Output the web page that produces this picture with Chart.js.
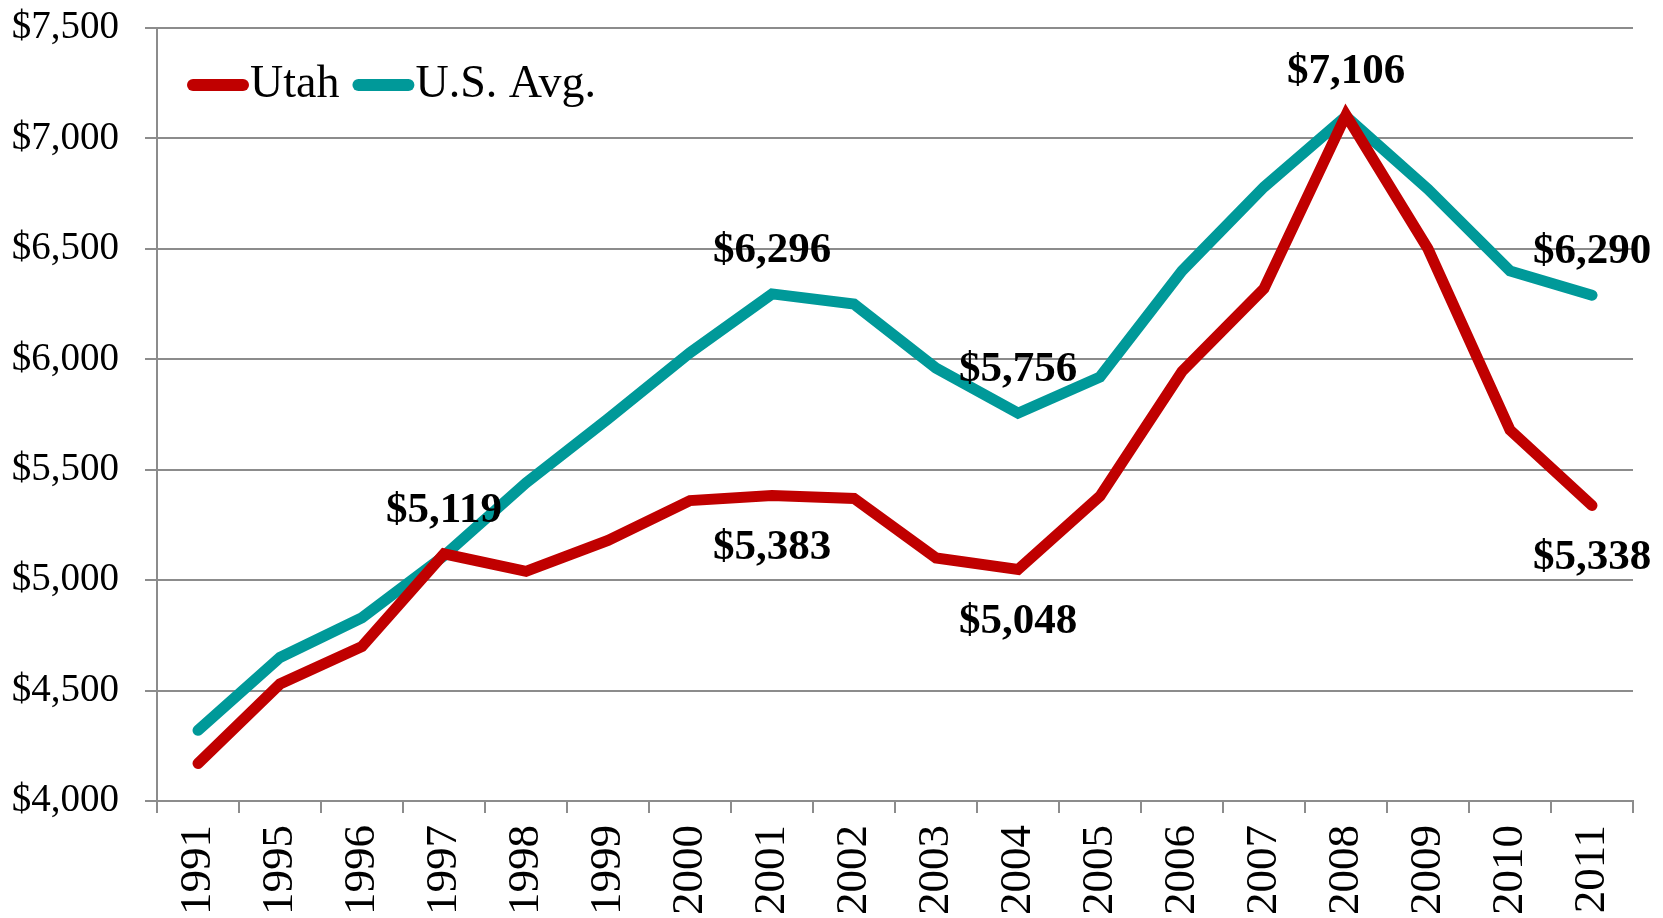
<!DOCTYPE html>
<html>
<head>
<meta charset="utf-8">
<title>Utah vs U.S. Avg.</title>
<script src="https://cdn.jsdelivr.net/npm/chart.js@4.4.1/dist/chart.umd.min.js"></script>
<style>
  html, body { margin: 0; padding: 0; background: #fff; }
</style>
</head>
<body>
<canvas id="spendChart" width="1663" height="918"></canvas>
<script>
  const years = ['1991', '1995', '1996', '1997', '1998', '1999', '2000', '2001', '2002',
                 '2003', '2004', '2005', '2006', '2007', '2008', '2009', '2010', '2011'];
  const utah  = [4170, 4530, 4700, 5119, 5040, 5180, 5360, 5383, 5370,
                 5100, 5048, 5380, 5945, 6320, 7106, 6500, 5680, 5338];
  const usAvg = [4320, 4650, 4830, 5110, 5440, 5730, 6030, 6296, 6250,
                 5960, 5756, 5920, 6400, 6780, 7100, 6770, 6400, 6290];
  const yMin = 4000, yMax = 7500, yStep = 500;

  // points that carry a value label: index -> side
  const utahLabelAt  = { 3: 'above', 7: 'below', 10: 'below', 14: 'above', 17: 'below' };
  const usAvgLabelAt = { 7: 'above', 10: 'above', 17: 'above' };

  const serif = '"Liberation Serif", "DejaVu Serif", serif';
  const money = v => '$' + Number(v).toLocaleString('en-US');

  // value labels drawn at the library's point positions
  const valueLabels = {
    id: 'valueLabels',
    afterDatasetsDraw(chart) {
      const ctx = chart.ctx;
      ctx.save();
      ctx.font = 'bold 43px ' + serif;
      ctx.fillStyle = '#000';
      ctx.textAlign = 'center';
      ctx.textBaseline = 'middle';
      chart.data.datasets.forEach((ds, di) => {
        const meta = chart.getDatasetMeta(di);
        Object.entries(ds.labelAt || {}).forEach(([i, side]) => {
          const pt = meta.data[i];
          const dy = side === 'above' ? -43 : 52;
          ctx.fillText(money(ds.data[i]), pt.x, pt.y + dy);
        });
      });
      ctx.restore();
    }
  };

  // legend sitting inside the plot, top left
  const insideLegend = {
    id: 'insideLegend',
    afterDraw(chart) {
      const ctx = chart.ctx;
      let x = chart.chartArea.left + 36;
      const y = 85;
      ctx.save();
      ctx.font = '46px ' + serif;
      ctx.textBaseline = 'middle';
      ctx.textAlign = 'left';
      chart.data.datasets.forEach(ds => {
        ctx.strokeStyle = ds.borderColor;
        ctx.lineWidth = 12;
        ctx.lineCap = 'round';
        ctx.beginPath();
        ctx.moveTo(x, y);
        ctx.lineTo(x + 50, y);
        ctx.stroke();
        ctx.fillStyle = '#000';
        ctx.fillText(ds.label, x + 57, y);
        x += 57 + ctx.measureText(ds.label).width + 19;
      });
      ctx.restore();
    }
  };

  const ctx = document.getElementById('spendChart').getContext('2d');

  const spendChart = new Chart(ctx, {
    type: 'line',
    data: {
      labels: years,
      datasets: [
        {
          label: 'Utah',
          data: utah,
          labelAt: utahLabelAt,
          borderColor: '#C00000',
          backgroundColor: '#C00000',
          borderWidth: 11,
          borderCapStyle: 'round',
          pointRadius: 0,
          tension: 0
        },
        {
          label: 'U.S. Avg.',
          data: usAvg,
          labelAt: usAvgLabelAt,
          borderColor: '#009999',
          backgroundColor: '#009999',
          borderWidth: 11,
          borderCapStyle: 'round',
          pointRadius: 0,
          tension: 0
        }
      ]
    },
    options: {
      responsive: false,
      animation: false,
      devicePixelRatio: 1,
      layout: {
        padding: { top: 28, right: 30, bottom: 0, left: 0 }
      },
      plugins: {
        legend: { display: false },
        tooltip: { enabled: false }
      },
      scales: {
        x: {
          offset: true,
          grid: {
            offset: true,
            drawOnChartArea: false,
            color: '#8c8c8c',
            lineWidth: 2,
            tickLength: 12
          },
          border: { color: '#8c8c8c', width: 2 },
          ticks: {
            color: '#000',
            font: { family: serif, size: 45 },
            minRotation: 90,
            maxRotation: 90,
            padding: 12,
            autoSkip: false
          },
          afterFit(scale) { scale.height = 117; }
        },
        y: {
          min: yMin,
          max: yMax,
          grid: {
            color: '#8c8c8c',
            lineWidth: 2,
            tickLength: 12
          },
          border: { color: '#8c8c8c', width: 2 },
          ticks: {
            stepSize: yStep,
            color: '#000',
            font: { family: serif, size: 39 },
            padding: 26,
            callback: v => money(v)
          },
          afterFit(scale) {
            scale.width = 157;
            scale.paddingTop = 0;
            scale.paddingBottom = 0;
          }
        }
      }
    },
    plugins: [valueLabels, insideLegend]
  });
</script>
</body>
</html>
